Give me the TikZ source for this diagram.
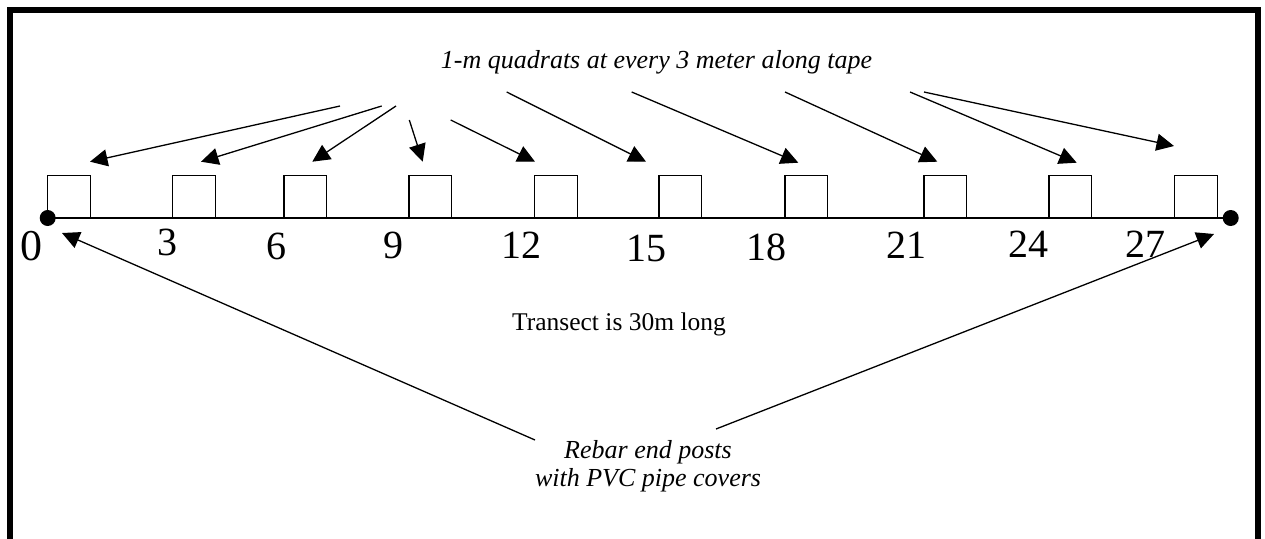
\documentclass[tikz,border=0pt]{standalone}
\usepackage{fontspec}
\setmainfont{Liberation Serif}
\usetikzlibrary{arrows.meta}
\begin{document}
\begin{tikzpicture}[x=1pt,y=-1pt,
  quad/.style={draw, line width=1.3pt, minimum size=42.7pt, inner sep=0pt},
  post/.style={circle, fill=black, minimum size=16pt, inner sep=0pt},
  num/.style={font=\fontsize{40}{48}\selectfont, inner sep=0pt, anchor=base},
  note/.style={font=\fontsize{26}{30}\selectfont\itshape, inner sep=0pt, anchor=base},
  plain/.style={font=\fontsize{25.5}{30}\selectfont, inner sep=0pt, anchor=base},
  pointer/.style={line width=1.3pt, -{Triangle[length=17.5pt,width=17pt]}},
  frame/.style={line width=6pt}]
\useasboundingbox (0,0) rectangle (1265,538);
\fill[white] (0,0) rectangle (1265,538);
\draw[frame] (10.3,548) -- (10.3,10.3) -- (1257.5,10.3) -- (1257.5,548);

% quadrats
\node[quad] (q0)  at (69,197) {};
\node[quad] (q3)  at (194,197) {};
\node[quad] (q6)  at (305.3,197) {};
\node[quad] (q9)  at (430.3,197) {};
\node[quad] (q12) at (556,197) {};
\node[quad] (q15) at (680.3,197) {};
\node[quad] (q18) at (806.3,197) {};
\node[quad] (q21) at (945.3,197) {};
\node[quad] (q24) at (1070.3,197) {};
\node[quad] (q27) at (1196,197) {};

% tape and end posts
\node[post] (p0)  at (47.7,218) {};
\node[post] (p30) at (1230.7,218) {};
\draw[line width=1.3pt] (p0.center) -- (p30.center);

% distance labels
\node[num, font=\fontsize{44}{50}\selectfont] (n0) at (31.7,260) {0};
\node[num] (n3)  at (167,255) {3};
\node[num] (n6)  at (276.5,259) {6};
\node[num] (n9)  at (393.5,258) {9};
\node[num] (n12) at (521.7,258) {12};
\node[num] (n15) at (646,261) {15};
\node[num] (n18) at (766.7,260) {18};
\node[num] (n21) at (906,258) {21};
\node[num] (n24) at (1028,257) {24};
\node[num] (n27) at (1145.5,257) {27};

% texts
\node[note] (top) at (656.5,68) {1-m quadrats at every 3 meter along tape};
\node[plain] (len) at (619,330) {Transect is 30m long};
\node[note] (reb1) at (648,458) {Rebar end posts};
\node[note] (reb2) at (648,486) {with PVC pipe covers};

% arrow end points
\coordinate (s1) at (340,106);   \coordinate (t1) at (90,161.7);
\coordinate (s2) at (381.7,106); \coordinate (t2) at (201,161.7);
\coordinate (s3) at (396,106);   \coordinate (t3) at (312.3,161.7);
\coordinate (s4) at (409.3,120); \coordinate (t4) at (422.7,161.7);
\coordinate (s5) at (450.7,120); \coordinate (t5) at (535,161.7);
\coordinate (s6) at (506.7,92);  \coordinate (t6) at (646,161.7);
\coordinate (s7) at (631.7,92);  \coordinate (t7) at (798.3,162.7);
\coordinate (s8) at (785,92);    \coordinate (t8) at (937.3,161.7);
\coordinate (s9) at (910,92);    \coordinate (t9) at (1076.7,162.7);
\coordinate (s10) at (924,92);   \coordinate (t10) at (1174,146);
\coordinate (bl) at (535,440);   \coordinate (tl) at (62,233);
\coordinate (br) at (716,429);   \coordinate (tr) at (1214,234);

\foreach \i in {1,...,10} {\draw[pointer] (s\i) -- (t\i);}
\draw[pointer] (bl) -- (tl);
\draw[pointer] (br) -- (tr);
\end{tikzpicture}
\end{document}
